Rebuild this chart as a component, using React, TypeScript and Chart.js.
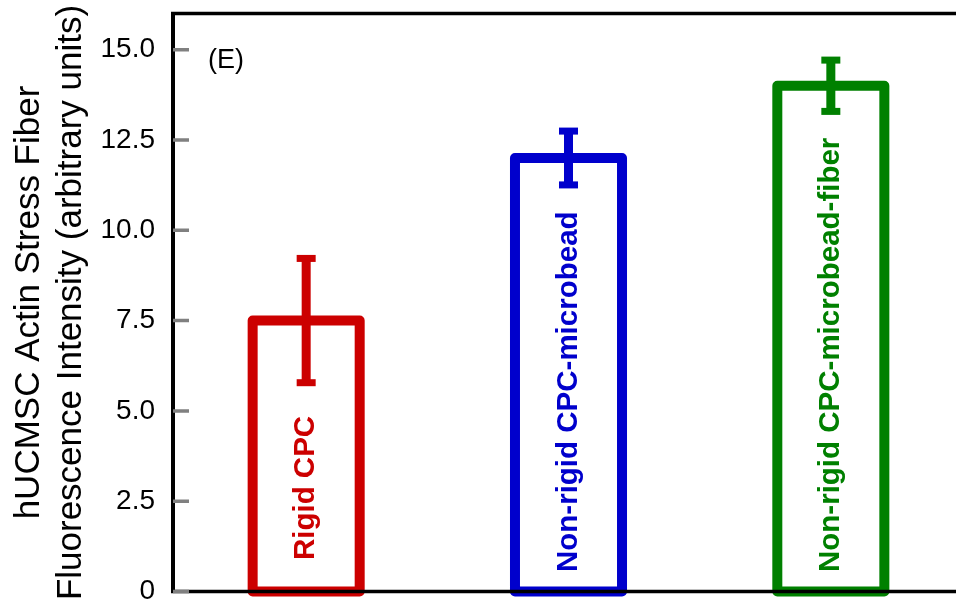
import React, { useEffect, useRef } from "react";
import { Chart, registerables } from "chart.js";

Chart.register(...registerables);

// Mean actin stress fibre intensity per scaffold, with the standard deviation
const categories = ["Rigid CPC", "Non-rigid CPC-microbead", "Non-rigid CPC-microbead-fiber"];
const means = [7.5, 12.0, 14.0];
const errors = [1.72, 0.745, 0.71];
const barColors = ["#cc0000", "#0000cc", "#008000"];
const yTickValues = [0, 2.5, 5, 7.5, 10, 12.5, 15];
const yMax = 16;
const yTitle = ["hUCMSC Actin Stress Fiber", "Fluorescence Intensity (arbitrary units)"];
const panelTag = "(E)";

const FONT = "'Liberation Sans', Arial, Helvetica, sans-serif";
// where each rotated bar label begins, in axis units from the baseline
const labelStart = [0.87, 0.54, 0.54];

const outlinedBars = {
  id: "outlinedBars",
  afterDatasetsDraw(chart: any) {
    const { ctx } = chart;
    const yScale = chart.scales.y;
    const meta = chart.getDatasetMeta(0);
    meta.data.forEach((el: any, i: number) => {
      const { x, y, base, width } = el.getProps(["x", "y", "base", "width"], true);
      const color = barColors[i];
      ctx.save();
      // outlined bar, stroke centred on the bar edges
      ctx.strokeStyle = color;
      ctx.lineWidth = 10;
      ctx.lineJoin = "round";
      ctx.strokeRect(x - width / 2, y, width, base - y);

      // error bar
      const hi = yScale.getPixelForValue(means[i] + errors[i]);
      const lo = yScale.getPixelForValue(means[i] - errors[i]);
      ctx.fillStyle = color;
      ctx.fillRect(x - 4.5, hi, 9, lo - hi);
      ctx.fillRect(x - 9.5, hi - 3.5, 19, 7);
      ctx.fillRect(x - 9.5, lo - 3.5, 19, 7);

      // rotated category label inside the bar
      const ly = yScale.getPixelForValue(labelStart[i]);
      ctx.translate(x, ly);
      ctx.rotate(-Math.PI / 2);
      ctx.font = `bold 29.5px ${FONT}`;
      ctx.textAlign = "left";
      ctx.textBaseline = "middle";
      ctx.fillText(categories[i], 0, 0);
      ctx.restore();
    });
  },
  afterDraw(chart: any) {
    const { ctx, chartArea, width } = chart;
    const yScale = chart.scales.y;
    const axisX = chartArea.left - 2;
    ctx.save();
    ctx.strokeStyle = "#000";
    // frame: left axis, bottom axis, top edge
    ctx.lineWidth = 4;
    ctx.beginPath();
    ctx.moveTo(axisX, chartArea.top - 1.5);
    ctx.lineTo(axisX, chartArea.bottom + 1.5);
    ctx.stroke();
    ctx.lineWidth = 3.5;
    ctx.beginPath();
    ctx.moveTo(axisX - 2, chartArea.bottom);
    ctx.lineTo(width, chartArea.bottom);
    ctx.moveTo(axisX - 2, chartArea.top);
    ctx.lineTo(width, chartArea.top);
    ctx.stroke();

    // inward grey tick marks
    ctx.strokeStyle = "#808080";
    ctx.lineWidth = 3.5;
    ctx.beginPath();
    yTickValues.forEach((v) => {
      const py = yScale.getPixelForValue(v);
      ctx.moveTo(axisX, py);
      ctx.lineTo(axisX + 16, py);
    });
    ctx.stroke();

    // panel tag
    ctx.fillStyle = "#000";
    ctx.font = `27px ${FONT}`;
    ctx.textAlign = "left";
    ctx.textBaseline = "alphabetic";
    ctx.fillText(panelTag, chartArea.left + 33, chartArea.top + 54);
    ctx.restore();
  },
};

export default function App() {
  const canvasRef = useRef<HTMLCanvasElement | null>(null);

  useEffect(() => {
    const canvas = canvasRef.current;
    if (!canvas) return;
    const chart = new Chart(canvas, {
      type: "bar",
      data: {
        labels: categories,
        datasets: [
          {
            data: means,
            backgroundColor: "rgba(255,255,255,0)",
            borderWidth: 0,
            barPercentage: 0.408,
            categoryPercentage: 1,
          },
        ],
      },
      options: {
        responsive: false,
        animation: false,
        devicePixelRatio: 1,
        layout: { padding: { left: 0, top: 13.5, right: 0, bottom: 12.5 } },
        plugins: {
          legend: { display: false },
          tooltip: { enabled: false },
        },
        scales: {
          x: {
            display: false,
            offset: true,
          },
          y: {
            min: 0,
            max: yMax,
            grid: { display: false, drawTicks: false },
            border: { display: false },
            afterBuildTicks(scale: any) {
              scale.ticks = yTickValues.map((v) => ({ value: v }));
            },
            afterFit(scale: any) {
              scale.width = 175;
              scale.paddingTop = 0;
              scale.paddingBottom = 0;
            },
            ticks: {
              padding: 20,
              color: "#000",
              font: { family: FONT, size: 28 },
              callback: (v: any) => (Number(v) === 0 ? "0" : Number(v).toFixed(1)),
            },
            title: {
              display: true,
              text: yTitle,
              color: "#000",
              font: { family: FONT, size: 35, lineHeight: 1.2 },
              padding: { top: 8, bottom: 0 },
            },
          },
        },
      },
      plugins: [outlinedBars],
    });
    return () => chart.destroy();
  }, []);

  return (
    <div
      style={{
        position: "fixed",
        left: 0,
        top: 0,
        width: 956,
        height: 604,
        overflow: "hidden",
        background: "#fff",
      }}
    >
      <canvas ref={canvasRef} width={962} height={604} style={{ display: "block" }} />
    </div>
  );
}
